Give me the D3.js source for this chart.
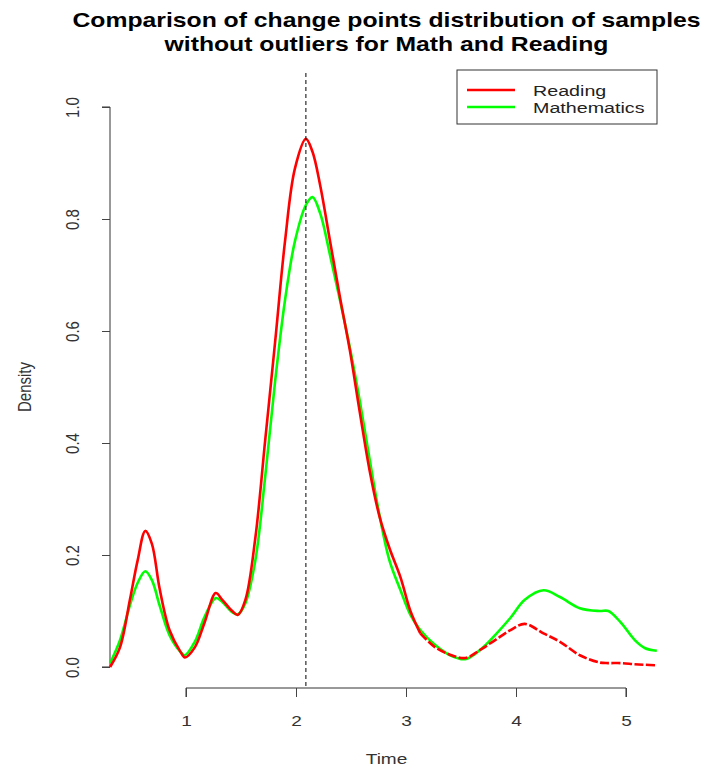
<!DOCTYPE html>
<html>
<head>
<meta charset="utf-8">
<script src="https://cdn.jsdelivr.net/npm/d3@7"></script>
<style>
  body { margin: 0; background: #fff; }
  text { font-family: "Liberation Sans", Arial, sans-serif; }
</style>
</head>
<body>
<svg id="chart" width="702" height="770"></svg>
<script>
// density estimates
const timeGrid = [0.31, 0.4, 0.49, 0.56, 0.63, 0.69, 0.76, 0.85, 0.95, 0.99,
  1.08, 1.17, 1.27, 1.33, 1.42, 1.47, 1.54, 1.63, 1.72, 1.81, 1.9, 1.99,
  2.09, 2.15, 2.22, 2.31, 2.4, 2.49, 2.58, 2.67, 2.76, 2.85, 2.95, 3.04,
  3.13, 3.26, 3.4, 3.54, 3.67, 3.81, 3.95, 4.08, 4.25, 4.4, 4.58, 4.76,
  4.84, 4.95, 5.08, 5.17, 5.28];

const readingDensity = [0.0, 0.035, 0.12, 0.19, 0.243, 0.22, 0.14, 0.066, 0.027, 0.017,
  0.035, 0.08, 0.132, 0.12, 0.1, 0.093, 0.12, 0.23, 0.405, 0.58, 0.76, 0.89,
  0.943, 0.92, 0.86, 0.76, 0.66, 0.565, 0.455, 0.35, 0.268, 0.212, 0.16, 0.1,
  0.06, 0.036, 0.022, 0.016, 0.03, 0.048, 0.066, 0.077, 0.06, 0.045, 0.021, 0.008,
  0.007, 0.007, 0.005, 0.004, 0.003];

const mathDensity = [0.007, 0.048, 0.11, 0.15, 0.171, 0.155, 0.11, 0.057, 0.027, 0.021,
  0.045, 0.09, 0.123, 0.116, 0.098, 0.094, 0.114, 0.19, 0.34, 0.51, 0.655, 0.76,
  0.825, 0.839, 0.81, 0.735, 0.655, 0.57, 0.475, 0.37, 0.27, 0.19, 0.137, 0.093,
  0.066, 0.04, 0.021, 0.014, 0.03, 0.057, 0.088, 0.12, 0.137, 0.125, 0.105, 0.1,
  0.1, 0.08, 0.048, 0.034, 0.029];

const xTicks = [1, 2, 3, 4, 5];
const yTicks = [0, 0.2, 0.4, 0.6, 0.8, 1.0];
const vline = 2.09;
const seriesNames = ["Reading", "Mathematics"];
const seriesColors = ["#ff0000", "#00ff00"];
const titleLines = ["Comparison of change points distribution of samples",
  "without outliers for Math and Reading"];

const svg = d3.select("#chart");

// plot region (pixels)
const PLOT = { left: 110, right: 657, top: 73, bottom: 688 };
const SX = 1.27;   // the original image is stretched sideways
const CX = 386.5;  // centre for title / x label

const x = d3.scaleLinear().domain([0, 5]).range([76, 626]);
const y = d3.scaleLinear().domain([0, 1]).range([667, 107]);

// ── Title ──
titleLines.forEach((t, i) => {
  svg.append("text")
    .attr("transform", `translate(${CX},${27 + i * 24}) scale(${SX},1)`)
    .attr("text-anchor", "middle")
    .attr("font-size", "19.5px")
    .attr("font-weight", "bold")
    .attr("fill", "#000")
    .text(t);
});

// ── Y axis ──
const yAxis = svg.append("g")
  .attr("transform", `translate(${PLOT.left},0)`)
  .call(d3.axisLeft(y).tickValues(yTicks).tickSize(8)
    .tickFormat(d3.format(".1f")));
yAxis.select(".domain").attr("stroke", "#333").attr("d", `M-8,${y(1)}H0V${y(0)}H-8`);
yAxis.selectAll(".tick line").attr("stroke", "#444");
yAxis.selectAll(".tick text")
  .attr("x", 0).attr("y", 0).attr("dy", null)
  .attr("transform", `translate(-31,0) scale(${SX},1) rotate(-90)`)
  .attr("text-anchor", "middle")
  .attr("font-size", "15px")
  .attr("fill", "#333");

// ── X axis ──
const xAxis = svg.append("g")
  .attr("transform", `translate(0,${PLOT.bottom})`)
  .call(d3.axisBottom(x).tickValues(xTicks).tickSize(9)
    .tickFormat(d3.format("d")));
xAxis.select(".domain").attr("stroke", "#333").attr("d", `M${x(1)},9V0H${x(5)}V9`);
xAxis.selectAll(".tick line").attr("stroke", "#444");
xAxis.selectAll(".tick text")
  .attr("x", 0).attr("y", 0).attr("dy", null)
  .attr("transform", `translate(0,38) scale(${SX},1)`)
  .attr("font-size", "15px")
  .attr("fill", "#333");

// ── Axis titles ──
svg.append("text")
  .attr("transform", `translate(${CX},764) scale(${SX},1)`)
  .attr("text-anchor", "middle")
  .attr("font-size", "15px")
  .attr("fill", "#333")
  .text("Time");

svg.append("text")
  .attr("transform", `translate(31,${(y(0) + y(1)) / 2}) scale(${SX},1) rotate(-90)`)
  .attr("text-anchor", "middle")
  .attr("font-size", "15px")
  .attr("fill", "#333")
  .text("Density");

// ── Density curves ──
const line = d3.line()
  .defined((d, i) => d != null)
  .x(d => x(d[0]))
  .y(d => y(d[1]))
  .curve(d3.curveCatmullRom.alpha(0.5));

const TAIL = 3.13;  // the reading curve shows as broken dashes after this point
const readingPts = timeGrid.map((t, i) => [t, readingDensity[i]]);
const mathPts = timeGrid.map((t, i) => [t, mathDensity[i]]);

svg.append("path")
  .attr("d", line(mathPts))
  .attr("fill", "none")
  .attr("stroke", seriesColors[1])
  .attr("stroke-width", 2.6)
  .attr("stroke-linejoin", "round");

svg.append("path")
  .attr("d", line(readingPts.filter(p => p[0] <= TAIL)))
  .attr("fill", "none")
  .attr("stroke", seriesColors[0])
  .attr("stroke-width", 2.6)
  .attr("stroke-linejoin", "round");

svg.append("path")
  .attr("d", line(readingPts.filter(p => p[0] >= TAIL)))
  .attr("fill", "none")
  .attr("stroke", seriesColors[0])
  .attr("stroke-width", 2.6)
  .attr("stroke-dasharray", "9,2.5");

// ── Vertical dashed line ──
svg.append("line")
  .attr("x1", x(vline)).attr("x2", x(vline))
  .attr("y1", PLOT.top).attr("y2", PLOT.bottom)
  .attr("stroke", "#000")
  .attr("stroke-width", 1)
  .attr("stroke-dasharray", "4,3");

// ── Legend ──
const lg = svg.append("g").attr("transform", "translate(457,70)");
lg.append("rect")
  .attr("width", 200).attr("height", 54)
  .attr("fill", "#fff")
  .attr("stroke", "#333").attr("stroke-width", 1);
seriesNames.forEach((name, i) => {
  const ly = 20 + i * 17;
  lg.append("line")
    .attr("x1", 10).attr("x2", 58)
    .attr("y1", ly).attr("y2", ly)
    .attr("stroke", seriesColors[i]).attr("stroke-width", 2.6);
  lg.append("text")
    .attr("transform", `translate(76,${ly + 6}) scale(${SX},1)`)
    .attr("font-size", "15.5px")
    .attr("fill", "#222")
    .text(name);
});
</script>
</body>
</html>
